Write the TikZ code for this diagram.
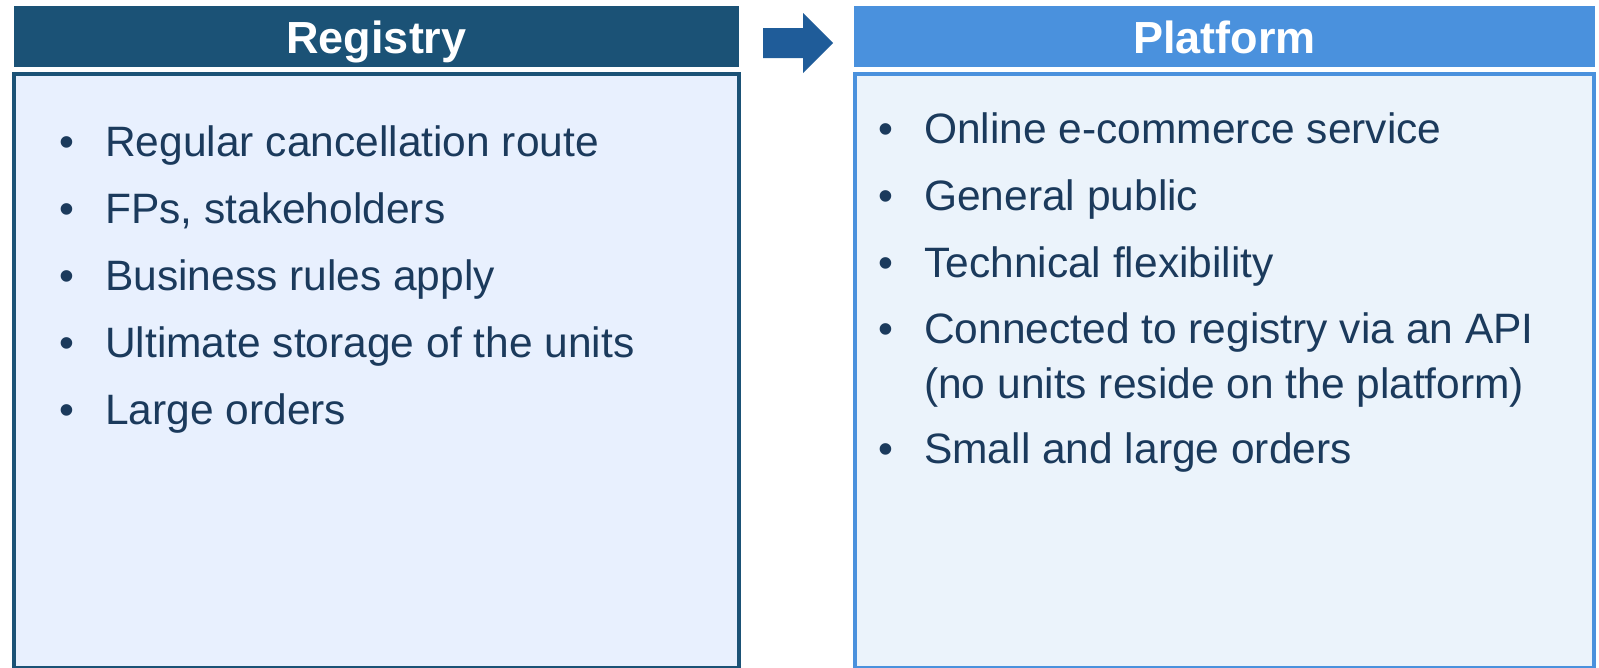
\documentclass[tikz,border=0pt]{standalone}
\usepackage{fontspec}
\setmainfont{Liberation Sans}
\definecolor{regdark}{HTML}{1B5276}
\definecolor{platblue}{HTML}{4A91DD}
\definecolor{arrowblue}{HTML}{1F5C99}
\definecolor{regfill}{HTML}{E8F0FE}
\definecolor{platfill}{HTML}{EBF3FB}
\definecolor{bodytext}{HTML}{1B3A5C}
\tikzset{
  headbar/.style={inner sep=0pt, text=white, font=\fontsize{45}{50}\selectfont\bfseries},
  bodybox/.style={line width=4pt},
  bullet/.style={anchor=base, inner sep=0pt, text=bodytext, font=\fontsize{42.5}{50}\selectfont},
  item/.style={anchor=base west, inner sep=0pt, text=bodytext,
    font=\fontsize{42.5}{50}\selectfont},
}
\begin{document}
\begin{tikzpicture}[x=1pt,y=-1pt]
\useasboundingbox (0,0) rectangle (1599,667);

% column headers
\fill[regdark] (14,6) rectangle (739,67);
\fill[platblue] (854,6) rectangle (1595,67);
\node[headbar, anchor=base] (regHead) at (376.5,53.5) {Registry};
\node[headbar, anchor=base] (platHead) at (1224.5,53.5) {Platform};

% arrow between the headers
\fill[arrowblue] (763,28) -- (803,28) -- (803,13) -- (833,43) -- (803,73)
  -- (803,58) -- (763,58) -- cycle;
\coordinate (arrowTip) at (833,43);

% body panels
\draw[bodybox, draw=regdark, fill=regfill] (14,74) rectangle (739,668);
\draw[bodybox, draw=platblue, fill=platfill] (855,74) rectangle (1594,668);
\coordinate (regBox) at (376.5,370);
\coordinate (platBox) at (1224.5,370);

% registry bullets
\foreach \y/\t [count=\i] in {156/Regular cancellation route,
    223/{FPs, stakeholders},
    290/Business rules apply,
    357/Ultimate storage of the units,
    424/Large orders} {
  \node[bullet] (regDot\i) at (67,\y) {•};
  \node[item] (regItem\i) at (105,\y) {\t};
}

% platform bullets
\foreach \y/\t [count=\i] in {143/Online e-commerce service,
    210/General public,
    277/Technical flexibility} {
  \node[bullet] (platDot\i) at (886,\y) {•};
  \node[item] (platItem\i) at (924,\y) {\t};
}
\node[bullet] (platDot4) at (886,343) {•};
\node[item] (platItem4) at (924,343) {Connected to registry via an API};
\node[item] (platItem4b) at (924,398) {(no units reside on the platform)};
\node[bullet] (platDot5) at (886,463) {•};
\node[item] (platItem5) at (924,463) {Small and large orders};
\end{tikzpicture}
\end{document}
